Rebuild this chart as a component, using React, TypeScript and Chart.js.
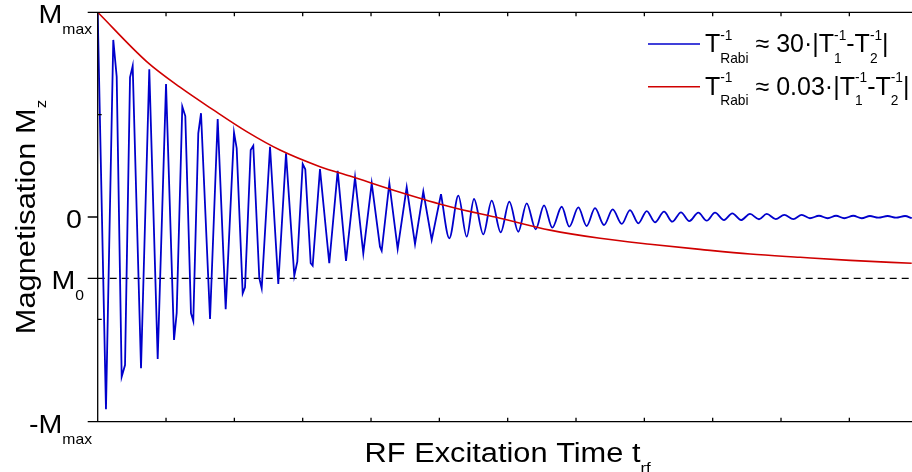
import React, { useEffect, useRef } from 'react';
import { Chart, registerables } from 'chart.js';

Chart.register(...registerables);

// ---------- data ----------
// time in axis-tick units, magnetisation in units of M_max
const blueSharpT = [0, 0.121, 0.228, 0.278, 0.351, 0.400, 0.473, 0.512, 0.634, 0.755, 0.878, 1.000, 1.117, 1.156, 1.238, 1.282, 1.365, 1.399, 1.472, 1.512, 1.644, 1.756, 1.873, 1.995, 2.034, 2.122, 2.156, 2.239, 2.277, 2.365, 2.400, 2.522, 2.643, 2.756, 2.877, 2.921, 3.000, 3.038, 3.117, 3.146, 3.253, 3.389, 3.512, 3.634, 3.766, 3.887, 4.010, 4.131, 4.156, 4.268, 4.390, 4.522, 4.644, 4.765, 4.888, 5.024];
const blueSharpM = [1.0, -0.939, 0.865, 0.685, -0.780, -0.723, 0.682, 0.738, -0.739, 0.722, -0.694, 0.650, -0.601, -0.469, 0.539, 0.493, -0.470, -0.508, 0.409, 0.507, -0.498, 0.479, -0.451, 0.412, 0.336, -0.373, -0.343, 0.327, 0.348, -0.299, -0.348, 0.343, -0.327, 0.311, -0.287, -0.218, 0.259, 0.233, -0.226, -0.238, 0.234, -0.226, 0.225, -0.215, 0.194, -0.177, 0.165, -0.145, -0.165, 0.165, -0.156, 0.145, -0.132, 0.124, -0.112, 0.112];

const blueSmoothT = [5.024, 5.146, 5.278, 5.400, 5.507, 5.643, 5.766, 5.898, 6.024, 6.155, 6.278, 6.410, 6.532, 6.653, 6.791, 6.902, 7.034, 7.156, 7.278, 7.410, 7.537, 7.669, 7.790, 7.912, 8.035, 8.156, 8.288, 8.409, 8.536, 8.658, 8.790, 8.913, 9.034, 9.166, 9.287, 9.415, 9.546, 9.678, 9.791, 9.923, 10.048, 10.180, 10.303, 10.424, 10.556, 10.683, 10.805, 10.926, 11.058, 11.181, 11.302, 11.424, 11.561, 11.683, 11.815, 11.913];
const blueSmoothM = [0.112, -0.104, 0.104, -0.096, 0.088, -0.085, 0.080, -0.075, 0.075, -0.072, 0.067, -0.060, 0.057, -0.052, 0.050, -0.047, 0.047, -0.044, 0.043, -0.039, 0.037, -0.034, 0.034, -0.031, 0.029, -0.026, 0.026, -0.023, 0.023, -0.020, 0.021, -0.018, 0.021, -0.015, 0.018, -0.015, 0.015, -0.011, 0.015, -0.010, 0.010, -0.010, 0.010, -0.006, 0.006, -0.006, 0.006, -0.006, 0.006, -0.006, 0.005, -0.003, 0.005, -0.003, 0.005, -0.006];

const redT = [0, 0.717, 1.204, 1.692, 2.181, 2.668, 3.253, 3.692, 4.424, 5.156, 5.888, 6.620, 7.352, 8.084, 8.816, 9.548, 10.280, 11.011, 11.913];
const redM = [1.0, 0.759, 0.634, 0.523, 0.417, 0.327, 0.246, 0.200, 0.121, 0.050, -0.006, -0.064, -0.104, -0.133, -0.158, -0.181, -0.197, -0.212, -0.226];

const m0Level = -0.3;

const xTickValues = [1, 2, 3, 4, 5, 6, 7, 8, 9, 10, 11];
const xAxisMax = 11.917;
const xAxisCenter = 6;

const yLabelValues = [1, 0, -0.3, -1];
const yLabelMain = ['M', '0', 'M', '-M'];
const yLabelSub = ['max', '', '0', 'max'];
const yMinorTicks = [0.5, -0.5];

const xTitleMain = 'RF Excitation Time t';
const xTitleSub = 'rf';
const yTitleMain = 'Magnetisation M';
const yTitleSub = 'z';

const legendFactors = ['30', '0.03'];

// ---------- styling ----------
const BLUE = '#0000cc';
const RED = '#d00000';
const FONT = '"Liberation Sans", Arial, Helvetica, sans-serif';
const font = (px: number) => `${px}px ${FONT}`;
const Y_LABEL_RIGHT = [92, 82, 84, 92];
const TITLE_SIZE = 27;
const TITLE_STRETCH = 1.14;
const TICK_SIZE = 26;
const TICK_STRETCH = 1.1;
const LEGEND_SIZE = 25;

type Seg = { t: string; k?: 'sub' | 'sup' };

function renderRich(ctx: CanvasRenderingContext2D, segs: Seg[], x: number, y: number, size: number, draw: boolean, smallRatio = 0.55) {
  const small = size * smallRatio;
  let cx = x;
  let i = 0;
  while (i < segs.length) {
    const s = segs[i];
    if (!s.k) {
      ctx.font = font(size);
      if (draw) ctx.fillText(s.t, cx, y);
      cx += ctx.measureText(s.t).width;
      i++;
    } else {
      let w = 0;
      while (i < segs.length && segs[i].k) {
        const r = segs[i];
        ctx.font = font(small);
        const dy = r.k === 'sub' ? size * 0.42 : -size * 0.5;
        if (draw) ctx.fillText(r.t, cx, y + dy);
        w = Math.max(w, ctx.measureText(r.t).width);
        i++;
      }
      cx += w;
    }
  }
  return cx - x;
}

// draws horizontally stretched rich text; returns drawn width
function drawStretched(ctx: CanvasRenderingContext2D, segs: Seg[], x: number, y: number, size: number, sx: number) {
  ctx.save();
  ctx.translate(x, y);
  ctx.scale(sx, 1);
  const w = renderRich(ctx, segs, 0, 0, size, true);
  ctx.restore();
  return w * sx;
}

const decorPlugin = {
  id: 'decor',
  afterDraw(chart: any) {
    const ctx: CanvasRenderingContext2D = chart.ctx;
    const { left, right, top, bottom } = chart.chartArea;
    const xs = chart.scales.x;
    const ys = chart.scales.y;
    ctx.save();
    ctx.strokeStyle = '#000';
    ctx.fillStyle = '#000';
    ctx.lineWidth = 1.3;
    ctx.setLineDash([]);
    // axes
    ctx.beginPath();
    ctx.moveTo(left - 10, top);
    ctx.lineTo(right, top);
    ctx.moveTo(left, top);
    ctx.lineTo(left, bottom);
    ctx.moveTo(left - 10, bottom);
    ctx.lineTo(right, bottom);
    // x ticks (inward, top and bottom)
    xTickValues.forEach((v) => {
      const px = xs.getPixelForValue(v);
      ctx.moveTo(px, bottom);
      ctx.lineTo(px, bottom - 4);
      ctx.moveTo(px, top);
      ctx.lineTo(px, top + 4);
    });
    // labelled y ticks (outward)
    yLabelValues.forEach((v) => {
      const py = ys.getPixelForValue(v);
      ctx.moveTo(left - 10, py);
      ctx.lineTo(left, py);
    });
    // minor y ticks (inward)
    yMinorTicks.forEach((v) => {
      const py = ys.getPixelForValue(v);
      ctx.moveTo(left, py);
      ctx.lineTo(left + 4, py);
    });
    ctx.stroke();

    ctx.textBaseline = 'alphabetic';
    ctx.textAlign = 'left';

    // y tick labels
    yLabelValues.forEach((v, i) => {
      const py = ys.getPixelForValue(v);
      const segs: Seg[] = [{ t: yLabelMain[i] }];
      if (yLabelSub[i]) segs.push({ t: yLabelSub[i], k: 'sub' });
      const w = renderRich(ctx, segs, 0, 0, TICK_SIZE, false) * TICK_STRETCH;
      drawStretched(ctx, segs, Y_LABEL_RIGHT[i] - w, py + 11, TICK_SIZE, TICK_STRETCH);
    });

    // x title
    {
      const segs: Seg[] = [{ t: xTitleMain }, { t: xTitleSub, k: 'sub' }];
      const w = renderRich(ctx, segs, 0, 0, TITLE_SIZE, false) * TITLE_STRETCH;
      const cx = xs.getPixelForValue(xAxisCenter);
      drawStretched(ctx, segs, cx - w / 2, 462, TITLE_SIZE, TITLE_STRETCH);
    }

    // y title
    {
      const segs: Seg[] = [{ t: yTitleMain }, { t: yTitleSub, k: 'sub' }];
      const w = renderRich(ctx, segs, 0, 0, TITLE_SIZE, false) * TITLE_STRETCH;
      const cy = ys.getPixelForValue(0);
      ctx.save();
      ctx.translate(35, cy);
      ctx.rotate(-Math.PI / 2);
      drawStretched(ctx, segs, -w / 2, 0, TITLE_SIZE, TITLE_STRETCH);
      ctx.restore();
    }

    // legend
    const legendColors = [BLUE, RED];
    legendFactors.forEach((f, i) => {
      const y = 44 + i * 42.7;
      ctx.strokeStyle = legendColors[i];
      ctx.lineWidth = 1.6;
      ctx.beginPath();
      ctx.moveTo(648, y);
      ctx.lineTo(700, y);
      ctx.stroke();
      ctx.fillStyle = '#000';
      const segs: Seg[] = [
        { t: 'T' }, { t: '-1', k: 'sup' }, { t: 'Rabi', k: 'sub' },
        { t: ` \u2248 ${f}\u00b7|T` }, { t: '1', k: 'sub' }, { t: '-1', k: 'sup' },
        { t: '-T' }, { t: '2', k: 'sub' }, { t: '-1', k: 'sup' },
        { t: '|' },
      ];
      renderRich(ctx, segs, 705, y + 8, LEGEND_SIZE, true);
    });
    ctx.restore();
  },
};

export default function App() {
  const ref = useRef<HTMLCanvasElement | null>(null);
  useEffect(() => {
    if (!ref.current) return;
    const pts = (ts: number[], ms: number[]) => ts.map((t, i) => ({ x: t, y: ms[i] }));
    const chart = new Chart(ref.current, {
      type: 'line',
      data: {
        datasets: [
          {
            label: 'red',
            data: pts(redT, redM),
            borderColor: RED,
            borderWidth: 1.6,
            pointRadius: 0,
            cubicInterpolationMode: 'monotone',
            fill: false,
            order: 0,
          },
          {
            label: 'blue',
            data: pts(blueSharpT, blueSharpM),
            borderColor: BLUE,
            borderWidth: 1.8,
            pointRadius: 0,
            tension: 0,
            fill: false,
            order: 1,
          },
          {
            label: 'blue-tail',
            data: pts(blueSmoothT, blueSmoothM),
            borderColor: BLUE,
            borderWidth: 1.8,
            pointRadius: 0,
            cubicInterpolationMode: 'monotone',
            fill: false,
            order: 1,
          },
          {
            label: 'M0',
            data: [{ x: 0, y: m0Level }, { x: xAxisMax, y: m0Level }],
            borderColor: '#000',
            borderWidth: 1.3,
            borderDash: [7, 5],
            pointRadius: 0,
            fill: false,
            order: 2,
          },
        ] as any,
      },
      options: {
        responsive: false,
        animation: false,
        events: [],
        layout: { padding: { left: 97.7, top: 12.3, right: 0, bottom: 50.3 } },
        scales: {
          x: { type: 'linear', min: 0, max: xAxisMax, display: false },
          y: { type: 'linear', min: -1, max: 1, display: false },
        },
        plugins: { legend: { display: false }, tooltip: { enabled: false } },
      } as any,
      plugins: [decorPlugin],
    });
    return () => chart.destroy();
  }, []);
  return (
    <div style={{ position: 'fixed', left: 0, top: 0, width: 912, height: 472, background: '#fff' }}>
      <canvas ref={ref} width={912} height={472} style={{ display: 'block', width: 912, height: 472 }} />
    </div>
  );
}
